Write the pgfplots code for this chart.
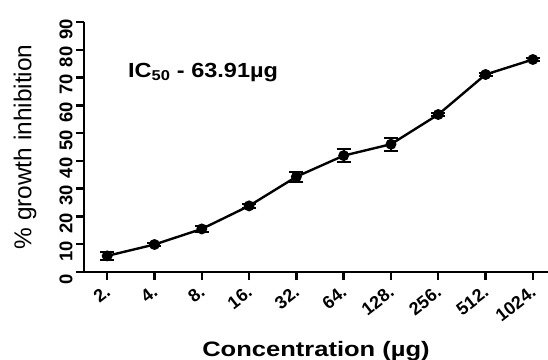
\documentclass[border=0pt]{standalone}
\usepackage{fontspec}
\setmainfont{Liberation Sans}
\usepackage{pgfplots}
\pgfplotsset{compat=1.18}
\begin{document}
\begin{tikzpicture}
\path[use as bounding box] (0,0) rectangle (548bp,360bp);
\begin{axis}[
  at={(84bp,88bp)}, anchor=south west,
  scale only axis, width=464bp, height=250bp,
  xmin=-0.49, xmax=9.32, ymin=0, ymax=90,
  axis lines=left, axis line style={-, line width=2.4pt},
  xtick={0,...,9},
  xticklabels={2.,4.,8.,16.,32.,64.,128.,256.,512.,1024.},
  ytick={0,10,...,90},
  tick style={line width=2.4pt, black},
  major tick length=8bp,
  tick align=outside,
  /pgf/number format/assume math mode=true,
  tick label style={font=\fontsize{18.5}{22}\selectfont\bfseries},
  xticklabel style={rotate=38, anchor=east, inner sep=0.5bp, yshift=-8bp, xshift=-5bp, font=\fontsize{18}{21}\selectfont\bfseries},
  yticklabel style={rotate=90, anchor=south, xshift=-7bp},
  ylabel={\% growth inhibition},
  ylabel style={at={(axis description cs:-0.127,0.5)}, anchor=center, font=\fontsize{24.5}{28}\selectfont},
  xlabel={Concentration (µg)},
  xlabel style={at={(axis description cs:0.5,-0.34)}, anchor=base, inner sep=0pt, font=\fontsize{21}{24}\selectfont\bfseries\addfontfeatures{FakeStretch=1.22}},
  clip=false,
]
\addplot[black, line width=2.4pt, mark=*, mark size=4.2bp,
  error bars/.cd, y dir=both, y explicit,
  error bar style={line width=2pt}, error mark options={rotate=90, mark size=7bp, line width=2pt}]
  coordinates {
  (0,5.8) +- (0,1.5)
  (1,9.9) +- (0,0.5)
  (2,15.5) +- (0,1.2)
  (3,23.8) +- (0,0.6)
  (4,34.3) +- (0,1.8)
  (5,41.9) +- (0,2.4)
  (6,46.0) +- (0,2.3)
  (7,56.7) +- (0,0.7)
  (8,71.1) +- (0,0.6)
  (9,76.5) +- (0,0.6)
  };
\node[anchor=base west, inner sep=0pt, font=\fontsize{20.5}{24}\selectfont\bfseries\addfontfeatures{FakeStretch=1.15}] at (axis cs:0.44,70) {IC\textsubscript{50} - 63.91µg};
\end{axis}
\end{tikzpicture}
\end{document}
